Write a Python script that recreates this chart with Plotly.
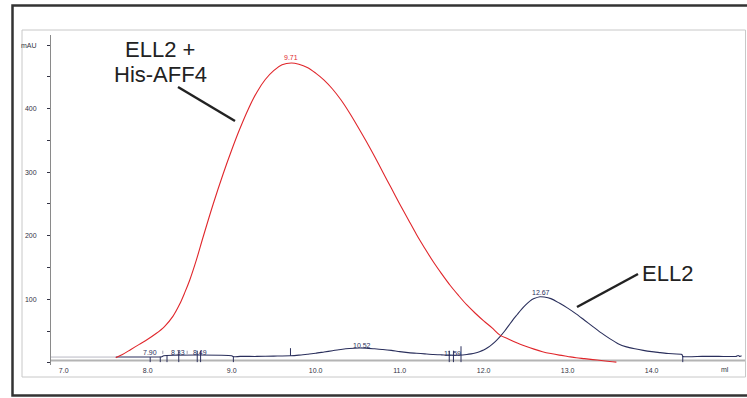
import plotly.graph_objects as go

# ---------------- data ----------------
red_ml = [7.62, 7.70, 7.80, 7.90, 8.00, 8.10, 8.20, 8.30, 8.38, 8.44, 8.50, 8.58, 8.66, 8.78,
          8.90, 9.00, 9.09, 9.20, 9.30, 9.40, 9.50, 9.60, 9.71, 9.80, 9.90, 10.00, 10.10,
          10.20, 10.30, 10.40, 10.50, 10.60, 10.70, 10.80, 10.90, 11.00, 11.10, 11.20, 11.30,
          11.40, 11.50, 11.60, 11.70, 11.80, 11.90, 12.00, 12.10, 12.19, 12.30, 12.40, 12.50,
          12.60, 12.70, 12.80, 12.90, 13.00, 13.10, 13.20, 13.30, 13.40, 13.50, 13.58]
red_mau = [8, 13, 21, 29, 37, 46, 57, 73, 92, 110, 130, 162, 198, 250,
           298, 335, 366, 400, 426, 446, 460, 469, 472, 470, 465, 456, 445,
           431, 414, 394, 372, 349, 325, 300, 275, 250, 226, 202, 180,
           159, 140, 122, 106, 91, 78, 66, 55, 44, 37, 31, 26,
           21.5, 17.5, 14.5, 12, 10, 8, 6.5, 5, 3.5, 2, 1]

blue_ml = [7.62, 8.02, 8.17, 8.19, 9.00, 9.02, 9.10, 9.30, 9.50, 9.70, 9.80, 9.90, 10.00,
           10.10, 10.20, 10.30, 10.40, 10.52, 10.60, 10.70, 10.80, 10.90, 11.00, 11.10,
           11.20, 11.30, 11.40, 11.50, 11.60, 11.70, 11.80, 11.85, 11.90, 11.95, 12.00,
           12.05, 12.10, 12.15, 12.20, 12.25, 12.30, 12.35, 12.40, 12.45, 12.50, 12.55,
           12.60, 12.67, 12.72, 12.80, 12.90, 13.00, 13.10, 13.20, 13.30, 13.40, 13.50,
           13.60, 13.70, 13.80, 13.90, 14.00, 14.10, 14.20, 14.36, 14.37, 14.60, 14.80,
           15.00, 15.03, 15.05, 15.07]
blue_mau = [9, 9, 9.5, 11, 11, 9.5, 10, 10, 10.5, 11, 12, 13.5, 15,
            17, 19, 21, 22.5, 23.3, 23, 22, 21, 19.5, 17.5, 16,
            15, 14, 13, 12.5, 12, 12, 13, 14, 15.5, 17.5, 20,
            24, 29, 35, 42, 50, 59, 68, 76, 84, 91, 97,
            101, 104, 103.5, 101, 94, 86, 77, 67, 57, 47, 38,
            30, 25, 22, 19.5, 17.5, 16, 14.5, 13, 10, 10, 10,
            10, 11.5, 10, 11]

# fraction marks: position (ml), bottom and top (mAU)
mark_ml = [8.03, 8.15, 8.23, 8.37, 8.59, 8.63, 9.02, 9.70, 11.59, 11.64, 11.73, 14.37]
mark_lo = [1, 1, 1, 1, 1, 1, 1, 11, 1, 1, 1, 1]
mark_hi = [9, 9, 12, 19, 19, 19, 10, 23, 19, 19, 26, 11]
sep_ml = [8.18, 8.47]
sep_lo = [14, 14]
sep_hi = [19, 19]

# peak / fraction labels
peak_text = ["9.71", "10.52", "11.59", "12.67", "7.90", "8.33", "8.49"]
peak_ml = [9.71, 10.55, 11.63, 12.68, 8.03, 8.36, 8.62]
peak_mau = [481, 27, 15, 110, 16, 16, 16]
peak_col = ["#e0262b", "#2a2f5c", "#2a2f5c", "#2a2f5c", "#2a2f5c", "#2a2f5c", "#2a2f5c"]

x_ticks = [7, 8, 9, 10, 11, 12, 13, 14]
x_ticktext = ["7.0", "8.0", "9.0", "10.0", "11.0", "12.0", "13.0", "14.0"]
y_ticks = [100, 200, 300, 400, 500]
y_ticktext = ["100", "200", "300", "400", "mAU"]

# ---------------- figure ----------------
W, H = 747, 398


def px(x):
    return x / W


def py(y):
    return 1 - y / H


def seg(xs, lo, hi):
    X, Y = [], []
    for a, b, c in zip(xs, lo, hi):
        X += [a, a, None]
        Y += [b, c, None]
    return X, Y


fig = go.Figure()

mx, my = seg(mark_ml, mark_lo, mark_hi)
sx, sy = seg(sep_ml, sep_lo, sep_hi)

fig.add_trace(go.Scatter(x=sx, y=sy, mode="lines", line=dict(color="#a0a0b0", width=1),
                         hoverinfo="skip", showlegend=False))
fig.add_trace(go.Scatter(x=blue_ml, y=blue_mau, mode="lines",
                         line=dict(color="#2a2f5c", width=1.1, shape="spline", smoothing=0.6),
                         showlegend=False))
fig.add_trace(go.Scatter(x=mx, y=my, mode="lines", line=dict(color="#2a2f5c", width=1),
                         hoverinfo="skip", showlegend=False))
fig.add_trace(go.Scatter(x=red_ml, y=red_mau, mode="lines",
                         line=dict(color="#e0262b", width=1.1, shape="spline", smoothing=0.9),
                         showlegend=False))

XR = [6.849, 15.111]
shapes = [
    # outer frame
    dict(type="rect", xref="paper", yref="paper", x0=px(12.5), x1=px(760), y0=py(395.5), y1=py(5.5),
         line=dict(color="#333333", width=2.5), layer="above"),
    # inner light box
    dict(type="rect", xref="paper", yref="paper", x0=px(22), x1=px(745.5), y0=py(377), y1=py(30),
         line=dict(color="#c8c8c8", width=1), layer="below"),
    # x axis baseline
    dict(type="line", xref="x", yref="y", x0=XR[0], x1=XR[1], y0=3.6, y1=3.6,
         line=dict(color="#b4b4b4", width=2), layer="below"),
    dict(type="line", xref="x", yref="y", x0=XR[0], x1=7.62, y0=9, y1=9,
         line=dict(color="#b8b8c4", width=1), layer="below"),
    # leader lines
    dict(type="line", xref="paper", yref="paper", x0=px(178), y0=py(87), x1=px(235), y1=py(121),
         line=dict(color="#222222", width=2.5)),
    dict(type="line", xref="paper", yref="paper", x0=px(577), y0=py(307), x1=px(638), y1=py(274),
         line=dict(color="#222222", width=2.5)),
]

annotations = []
for t, x, y, c in zip(peak_text, peak_ml, peak_mau, peak_col):
    annotations.append(dict(x=x, y=y, xref="x", yref="y", text=t, showarrow=False,
                            font=dict(size=7, color=c, family="Liberation Sans"),
                            xanchor="center", yanchor="middle"))

big = dict(size=22, color="#222222", family="Liberation Sans")
annotations += [
    dict(x=px(160), y=py(50), xref="paper", yref="paper", text="ELL2 +", showarrow=False,
         font=big, xanchor="center", yanchor="middle"),
    dict(x=px(160), y=py(74), xref="paper", yref="paper", text="His-AFF4", showarrow=False,
         font=big, xanchor="center", yanchor="middle"),
    dict(x=px(667), y=py(273), xref="paper", yref="paper", text="ELL2", showarrow=False,
         font=big, xanchor="center", yanchor="middle"),
    dict(x=14.87, y=py(369), xref="x", yref="paper", text="ml", showarrow=False,
         font=dict(size=7, color="#333344", family="Liberation Sans"),
         xanchor="center", yanchor="middle"),
]

fig.update_layout(
    width=W, height=H,
    margin=dict(l=0, r=0, t=0, b=0),
    paper_bgcolor="white", plot_bgcolor="white",
    shapes=shapes, annotations=annotations,
    xaxis=dict(domain=[px(51), px(745)], range=XR, showgrid=False, zeroline=False,
               showline=False, tickvals=x_ticks, ticktext=x_ticktext, ticks="",
               ticklabelstandoff=0,
               tickfont=dict(size=7, color="#333344", family="Liberation Sans")),
    yaxis=dict(domain=[py(365), py(35)], range=[-3.5, 516], showgrid=False, zeroline=False,
               showline=True, linecolor="#8a8a8a", linewidth=1,
               tickvals=y_ticks, ticktext=y_ticktext, ticks="outside", ticklen=3,
               tickcolor="#333344", ticklabelstandoff=9,
               minor=dict(dtick=50, ticks="outside", ticklen=3, tickcolor="#333344"),
               tickfont=dict(size=7, color="#333344", family="Liberation Sans")),
)

fig.write_html("out.html",
               config={"displayModeBar": False},
               post_script="document.body.style.margin='0px';document.body.style.overflow='hidden';")
